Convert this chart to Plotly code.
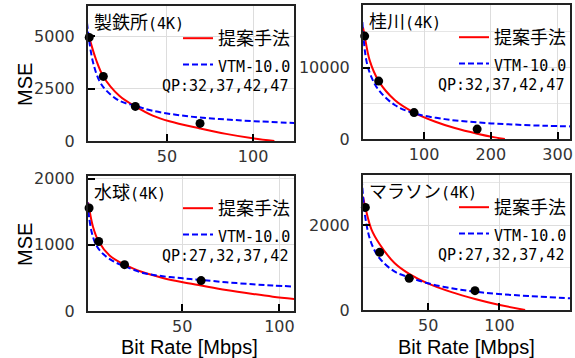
import re
import plotly.graph_objects as go

W, H = 575, 358

# ---------------- data ----------------
# Panel 1: 製鉄所(4K)
steel_rate = [4.8, 13.0, 31.6, 69.2]
steel_mse = [4940, 3080, 1650, 840]
steel_prop_rate = [4.1, 4.8, 8.7, 13.0, 22.3, 31.6, 41.7, 51.4, 69.2, 84.3, 99.8, 112.4]
steel_prop_mse = [5150, 4940, 3900, 3080, 2160, 1650, 1210, 940, 600, 340, 130, 0]
steel_vtm_rate = [3.5, 6.8, 10.7, 14.5, 22.3, 31.6, 41.7, 61, 80.4, 99.8, 124]
steel_vtm_mse = [5650, 3830, 2870, 2430, 1920, 1680, 1440, 1190, 1050, 950, 860]

# Panel 2: 桂川(4K)
kats_rate = [11, 32, 85, 179.5]
kats_mse = [14400, 8100, 3700, 1390]
kats_prop_rate = [8.5, 11, 18.5, 32, 56, 85, 116, 146, 179.5, 206, 221]
kats_prop_mse = [15600, 14400, 11000, 8100, 5460, 3700, 2450, 1530, 740, 230, 0]
kats_vtm_rate = [7.5, 13.5, 21, 32, 56, 85, 131, 181, 231, 281, 321]
kats_vtm_mse = [16350, 11000, 8700, 6850, 4760, 3600, 2780, 2310, 2040, 1850, 1760]

# Panel 3: 水球(4K)
polo_rate = [2.05, 7.0, 20.3, 59.7]
polo_mse = [1556, 1050, 700, 460]
polo_prop_rate = [1.54, 2.05, 4.1, 7.0, 12.6, 20.3, 29.8, 40, 50.3, 59.7, 72.6, 86.3, 96.6, 107.6]
polo_prop_mse = [1640, 1556, 1270, 1050, 840, 700, 585, 500, 435, 385, 318, 258, 217, 182]
polo_vtm_rate = [1.2, 3.2, 5.8, 9.2, 14.4, 20.3, 29.8, 40, 50.3, 59.7, 72.6, 86.3, 96.6, 107.6]
polo_vtm_mse = [1647, 1217, 990, 864, 753, 677, 575, 525, 494, 470, 434, 404, 386, 369]

# Panel 4: マラソン(4K)
mara_rate = [5.85, 15.9, 36.6, 82.8]
mara_mse = [2416, 1358, 746, 456]
mara_prop_rate = [4.2, 5.85, 10.1, 15.9, 26.5, 36.6, 50, 66.4, 82.8, 99.3, 118]
mara_prop_mse = [2668, 2416, 1900, 1550, 1100, 850, 620, 420, 260, 125, 0]
mara_vtm_rate = [3.2, 3.7, 6.5, 10.1, 15.9, 26.5, 36.6, 50, 66.4, 82.8, 99.3, 120.4, 149.7]
mara_vtm_mse = [3300, 2900, 2040, 1570, 1216, 903, 770, 628, 510, 432, 377, 330, 275]

titles = ["製鉄所(4K)", "桂川(4K)", "水球(4K)", "マラソン(4K)"]
qp_labels = ["QP:32,37,42,47", "QP:32,37,42,47", "QP:27,32,37,42", "QP:27,32,37,42"]
legend_names = ["提案手法", "VTM-10.0"]
x_label = "Bit Rate [Mbps]"
y_label = "MSE"

series = [
    (steel_rate, steel_mse, steel_prop_rate, steel_prop_mse, steel_vtm_rate, steel_vtm_mse),
    (kats_rate, kats_mse, kats_prop_rate, kats_prop_mse, kats_vtm_rate, kats_vtm_mse),
    (polo_rate, polo_mse, polo_prop_rate, polo_prop_mse, polo_vtm_rate, polo_vtm_mse),
    (mara_rate, mara_mse, mara_prop_rate, mara_prop_mse, mara_vtm_rate, mara_vtm_mse),
]

# ---------------- layout geometry (pixels) ----------------
boxes = [(88, 294, 6, 141), (363, 570, 5, 139), (88, 294, 176, 311), (363, 570, 175, 310)]
x_ranges = [[4.1, 123.8], [8.5, 318.6], [1.5, 107.5], [4.2, 149.5]]
y_ranges = [[0, 6440], [0, 18750], [0, 2040], [0, 3180]]
x_dticks = [50, 100, 50, 50]
y_dticks = [2500, 10000, 1000, 2000]
y_minor = [None, 5000, None, 1000]

MONO = "DejaVu Sans Mono"
CJK = "Noto Sans CJK JP"


def px(x):
    return x / W


def py(y):
    return 1 - y / H


def mixed(s, size=15):
    """Half-width latin runs in a smaller mono font; CJK uses the base font."""
    return re.sub(r"([\x00-\x7f]+)",
                  lambda m: '<span style="font-family:DejaVu Sans Mono;font-size:%dpx">%s</span>' % (size, m.group(1)),
                  s)


fig = go.Figure()
lay = dict(
    width=W, height=H, autosize=False,
    margin=dict(l=0, r=0, t=0, b=0, pad=0, autoexpand=False),
    paper_bgcolor="white", plot_bgcolor="white",
    showlegend=True,
)
annotations = []

for i in range(4):
    k = "" if i == 0 else str(i + 1)
    dots_x, dots_y, pr_x, pr_y, vt_x, vt_y = series[i]
    leg = "legend" + k
    xa, ya = "x" + k, "y" + k
    fig.add_trace(go.Scatter(x=pr_x, y=pr_y, mode="lines", name=mixed(legend_names[0]),
                             line=dict(color="#ff0000", width=2, shape="spline"),
                             xaxis=xa, yaxis=ya, legend=leg))
    fig.add_trace(go.Scatter(x=vt_x, y=vt_y, mode="lines", name=mixed(legend_names[1]),
                             line=dict(color="#0000ff", width=2, dash="6px,3px", shape="spline"),
                             xaxis=xa, yaxis=ya, legend=leg))
    fig.add_trace(go.Scatter(x=dots_x, y=dots_y, mode="markers", showlegend=False,
                             marker=dict(color="black", size=9), cliponaxis=False,
                             xaxis=xa, yaxis=ya))
    l, r, t, b = boxes[i]
    axis_common = dict(
        showline=True, mirror=True, linecolor="#222222", linewidth=2,
        showgrid=True, gridcolor="#dddddd", gridwidth=1, zeroline=False,
        ticks="inside", ticklen=7, tickwidth=2, tickcolor="black",
        tickfont=dict(family="DejaVu Sans", size=16, color="#333333"),
        tickformat="d", automargin=False,
    )
    xaxis = dict(axis_common, domain=[px(l), px(r)], range=x_ranges[i],
                 dtick=x_dticks[i], tick0=0, anchor=ya, ticklabelstandoff=0)
    yaxis = dict(axis_common, domain=[py(b), py(t)], range=y_ranges[i],
                 dtick=y_dticks[i], tick0=0, anchor=xa, ticklabelstandoff=8)
    if y_minor[i]:
        yaxis["minor"] = dict(dtick=y_minor[i], tick0=0, showgrid=True,
                              gridcolor="#e6e6e6", ticks="")
    lay["xaxis" + k] = xaxis
    lay["yaxis" + k] = yaxis
    lay[leg] = dict(x=px(r + 2), y=py(t + 14), xanchor="right", yanchor="top",
                    bgcolor="rgba(0,0,0,0)", borderwidth=0,
                    font=dict(family=CJK, size=18, color="black"),
                    itemwidth=30, tracegroupgap=0)
    annotations.append(dict(text=mixed(titles[i]), x=px(l + 4), y=py(t + 15),
                            xref="paper", yref="paper", xanchor="left", yanchor="middle",
                            showarrow=False, font=dict(family=CJK, size=18, color="black")))
    annotations.append(dict(text=qp_labels[i], x=px(r - 4), y=py(t + 80),
                            xref="paper", yref="paper", xanchor="right", yanchor="middle",
                            showarrow=False, font=dict(family=MONO, size=15, color="black")))

for yc in (85, 245):
    annotations.append(dict(text=y_label, x=px(25), y=py(yc), xref="paper", yref="paper",
                            textangle=-90, xanchor="center", yanchor="middle", showarrow=False,
                            font=dict(family="Liberation Sans", size=20, color="black")))
for xc in (189, 466):
    annotations.append(dict(text=x_label, x=px(xc), y=py(347), xref="paper", yref="paper",
                            xanchor="center", yanchor="middle", showarrow=False,
                            font=dict(family="Liberation Sans", size=20, color="black")))

lay["annotations"] = annotations
fig.update_layout(**lay)
fig.write_html("out.html", config={"displayModeBar": False},
               post_script="document.body.style.margin='0';")
